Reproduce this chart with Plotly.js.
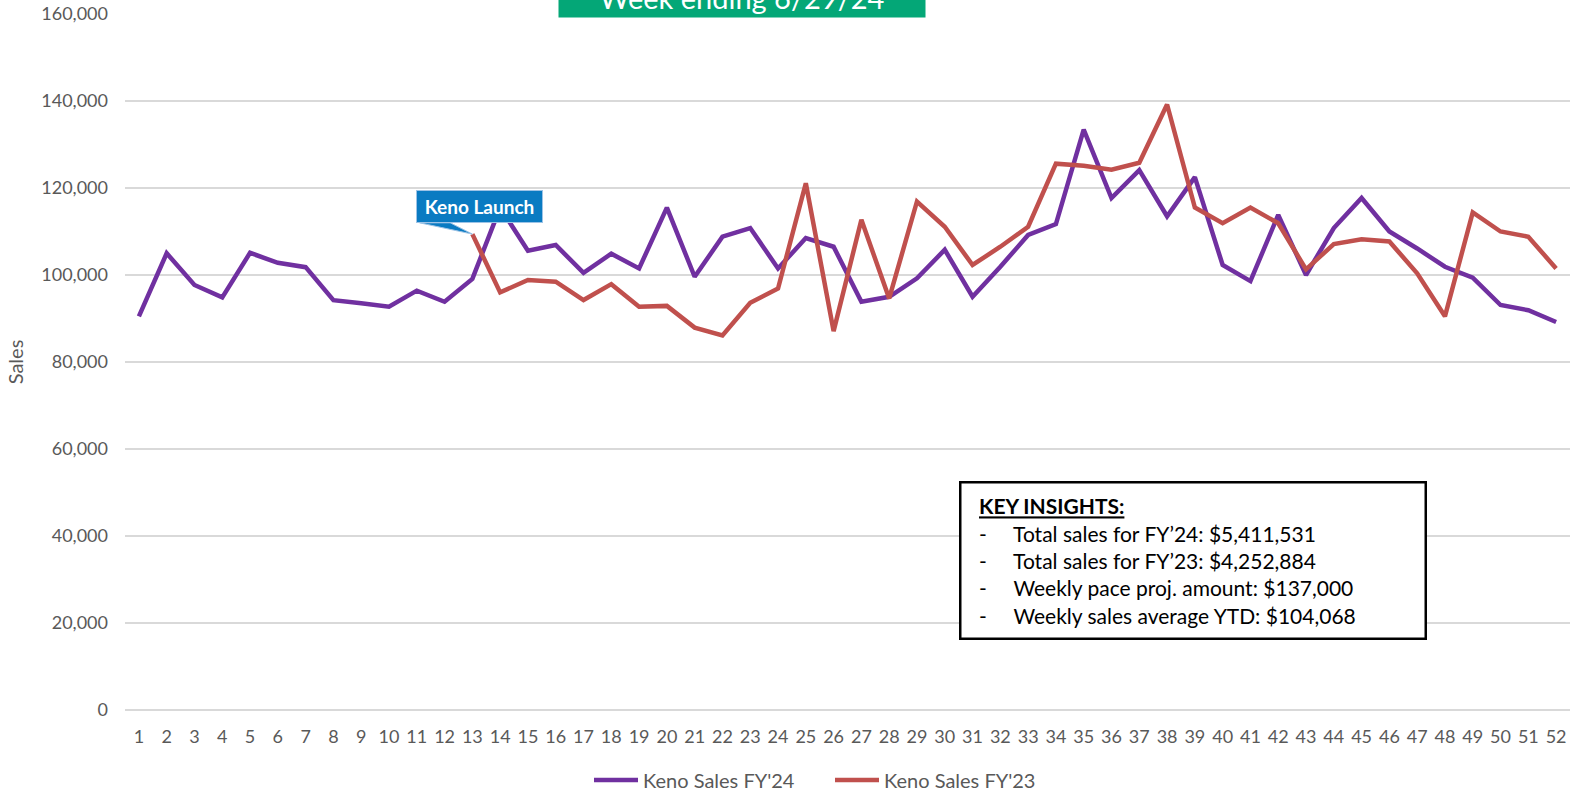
<!DOCTYPE html>
<html>
<head>
<meta charset="utf-8">
<script src="https://cdn.plot.ly/plotly-3.0.1.min.js"></script>
<style>html,body{margin:0;padding:0;background:#fff;}#chart{width:1583px;height:791px;}</style>
</head>
<body>
<div id="chart"></div>
<script>
const weeks = Array.from({length: 52}, (_, i) => i + 1);
const salesFY24 = [90500, 105000, 97700, 94850, 105100, 102800, 101800, 94200, 93500, 92700,
  96400, 93850, 99100, 115500, 105600, 106900, 100500, 104900, 101500, 115500,
  99600, 108800, 110800, 101500, 108500, 106500, 93850, 95000, 99250, 105800,
  95000, 101900, 109200, 111700, 133400, 117700, 124100, 113500, 122500, 102300,
  98600, 113800, 100000, 110800, 117700, 110000, 106100, 101900, 99400, 93100,
  91900, 89200];
const salesFY23 = [null, null, null, null, null, null, null, null, null, null,
  null, null, 109400, 96000, 98850, 98450, 94250, 97900, 92700, 92900,
  87900, 86100, 93600, 96900, 121100, 87100, 112700, 94600, 116900, 111100,
  102300, 106500, 111100, 125600, 125100, 124200, 125800, 139200, 115500, 111900,
  115500, 111900, 101300, 107100, 108200, 107700, 100400, 90500, 114400, 110000,
  108800, 101500];
const seriesNames = ["Keno Sales FY'24", "Keno Sales FY'23"];
const titleText = "Week ending 6/29/24";
const calloutText = "Keno Launch";
const insights = [
  "Total sales for FY\u201924: $5,411,531",
  "Total sales for FY\u201923: $4,252,884",
  "Weekly pace proj. amount: $137,000",
  "Weekly sales average YTD: $104,068"
];

const FONT = "Lato, 'Open Sans', sans-serif";

const traces = [
  {x: weeks, y: salesFY24, type: 'scatter', mode: 'lines', name: seriesNames[0],
   line: {color: '#7030A0', width: 4.5}, connectgaps: false},
  {x: weeks, y: salesFY23, type: 'scatter', mode: 'lines', name: seriesNames[1],
   line: {color: '#C0504D', width: 4.5}, connectgaps: false}
];

const insightText = '\u2002<b><span style="text-decoration:underline">KEY INSIGHTS:</span></b><br>' +
  insights.map(s => '\u2002-\u00a0\u00a0\u00a0\u00a0\u00a0' + s).join('<br>');

const layout = {
  width: 1583, height: 791,
  paper_bgcolor: '#ffffff', plot_bgcolor: '#ffffff',
  margin: {l: 125, r: 13, t: 14, b: 81},
  font: {family: FONT, size: 18, color: '#595959'},
  showlegend: true,
  legend: {orientation: 'h', xref: 'container', yref: 'container',
    x: 830 / 1583, xanchor: 'center', y: (791 - 780) / 791, yanchor: 'middle',
    font: {family: FONT, size: 20, color: '#595959'}, itemwidth: 44, entrywidth: 182,
    tracegroupgap: 0},
  xaxis: {range: [0.5, 52.5], tickmode: 'array', tickvals: weeks, ticktext: weeks.map(String),
    showgrid: false, zeroline: false, showline: false, ticks: '', automargin: false,
    tickfont: {family: FONT, size: 18, color: '#595959'}, ticklabelstandoff: 14, fixedrange: true},
  yaxis: {range: [0, 160000], dtick: 20000, tickformat: ',d', showgrid: true, automargin: false,
    gridcolor: '#D9D9D9', gridwidth: 1.5, zeroline: true, zerolinecolor: '#D9D9D9', zerolinewidth: 1.5,
    showline: false, ticks: '', ticklabelstandoff: 16,
    tickfont: {family: FONT, size: 18, color: '#595959'},
    title: {text: 'Sales', font: {family: FONT, size: 20, color: '#595959'}, standoff: 12},
    fixedrange: true},
  shapes: [
    {type: 'path', xref: 'x', yref: 'y',
     path: 'M 11.1 112000 L 12.2 112000 L 13.0 109400 Z',
     fillcolor: '#0A7BC2', line: {color: '#9DC3E6', width: 1}, layer: 'above'}
  ],
  annotations: [
    {xref: 'paper', yref: 'paper', x: (742 - 125) / 1445, y: (710 - 18) / 696,
     xanchor: 'center', yanchor: 'bottom', text: titleText, showarrow: false,
     bgcolor: '#04A777', width: 366, height: 40, borderpad: 0,
     font: {family: FONT, size: 29, color: '#ffffff'}},
    {xref: 'paper', yref: 'paper', x: (479 - 125) / 1445, y: (710 - 206) / 696,
     xanchor: 'center', yanchor: 'middle', text: '<b>' + calloutText + '</b>', showarrow: false,
     bgcolor: '#0A7BC2', bordercolor: '#9DC3E6', borderwidth: 1, borderpad: 0,
     width: 125, height: 31,
     font: {family: FONT, size: 19, color: '#ffffff'}},
    {xref: 'paper', yref: 'paper', x: (959 - 125) / 1445, y: (710 - 481) / 696,
     xanchor: 'left', yanchor: 'top', text: insightText, showarrow: false, align: 'left',
     valign: 'middle',
     bgcolor: '#ffffff', bordercolor: '#000000', borderwidth: 2.5, borderpad: 7,
     width: 449, height: 140,
     font: {family: FONT, size: 21, color: '#000000'}}
  ]
};

Plotly.newPlot('chart', traces, layout, {displayModeBar: false, responsive: false});
</script>
</body>
</html>
